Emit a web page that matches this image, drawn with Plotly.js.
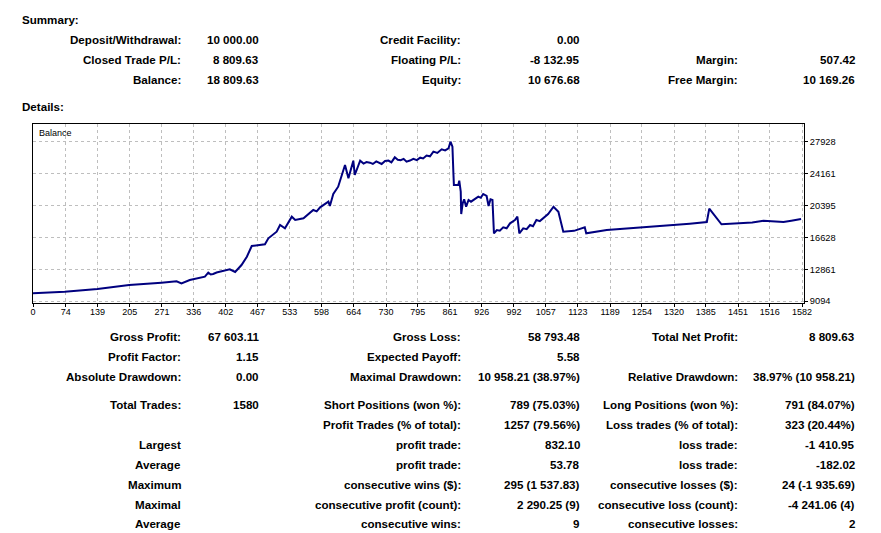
<!DOCTYPE html>
<html>
<head>
<meta charset="utf-8">
<script src="https://cdn.plot.ly/plotly-3.0.1.min.js"></script>
<style>
  html, body { margin: 0; padding: 0; background: #ffffff; }
  #chart { width: 881px; height: 533px; }
</style>
</head>
<body>
<div id="chart"></div>
<script>
// ---- Balance curve (trade number -> balance) ----
const tradeNo = [0, 72, 139, 204, 270, 301, 311, 328, 359, 366, 371, 376, 383, 390, 400, 410, 421, 434, 445, 455, 482, 489, 506, 513, 523, 537, 544, 561, 581, 588, 595, 612, 615, 622, 632, 639, 646, 653, 663, 666, 677, 684, 690, 697, 703, 710, 716, 721, 728, 735, 741, 748, 754, 760, 766, 772, 779, 786, 793, 800, 806, 813, 820, 827, 835, 844, 851, 858, 862, 866, 868, 869, 878, 880, 883, 884, 887, 890, 894, 899, 904, 909, 914, 919, 924, 929, 936, 940, 944, 948, 951, 957, 963, 970, 977, 984, 994, 999, 1003, 1011, 1018, 1025, 1031, 1038, 1045, 1052, 1062, 1073, 1083, 1093, 1115, 1137, 1140, 1182, 1216, 1250, 1284, 1318, 1352, 1387, 1392, 1417, 1455, 1480, 1503, 1520, 1544, 1560, 1580];
const balance = [10000, 10217, 10532, 11004, 11280, 11438, 11201, 11595, 11988, 12461, 12250, 12303, 12480, 12579, 12776, 12855, 12540, 13366, 14350, 15610, 15807, 16516, 17303, 18090, 17697, 19074, 18681, 18878, 19862, 19700, 20177, 20846, 20334, 21751, 22617, 23877, 25176, 23602, 25688, 23995, 25688, 25350, 25520, 25452, 25300, 25600, 25380, 25294, 25650, 25700, 25480, 26082, 25800, 25750, 25900, 25570, 25700, 25900, 25750, 26042, 25950, 26300, 26200, 26751, 26600, 27027, 26900, 27145, 27928, 27341, 24192, 22814, 22814, 23326, 22027, 19389, 20649, 21122, 20255, 21043, 20846, 21043, 21200, 21436, 21300, 21751, 21515, 20334, 21122, 21043, 17106, 17500, 17420, 17815, 17700, 18287, 18681, 19074, 17106, 17697, 17600, 18090, 17950, 18681, 18550, 18878, 19389, 20255, 19665, 17303, 17400, 17815, 17106, 17500, 17650, 17815, 17930, 18051, 18250, 18445, 20019, 18169, 18287, 18380, 18602, 18500, 18445, 18600, 18810];

// ---- Axis ticks ----
const xTickVals = [0, 74, 139, 205, 271, 336, 402, 467, 533, 598, 664, 730, 795, 861, 926, 992, 1057, 1123, 1189, 1254, 1320, 1385, 1451, 1516, 1582];
const yTickVals = [9094, 12861, 16628, 20395, 24161, 27928];

// ---- Report texts ----
const summaryTitle = "Summary:";
const detailsTitle = "Details:";
const summaryRow1 = ["Deposit/Withdrawal:", "10 000.00", "Credit Facility:", "0.00", "", ""];
const summaryRow2 = ["Closed Trade P/L:", "8 809.63", "Floating P/L:", "-8 132.95", "Margin:", "507.42"];
const summaryRow3 = ["Balance:", "18 809.63", "Equity:", "10 676.68", "Free Margin:", "10 169.26"];
const detailRow1 = ["Gross Profit:", "67 603.11", "Gross Loss:", "58 793.48", "Total Net Profit:", "8 809.63"];
const detailRow2 = ["Profit Factor:", "1.15", "Expected Payoff:", "5.58", "", ""];
const detailRow3 = ["Absolute Drawdown:", "0.00", "Maximal Drawdown:", "10 958.21 (38.97%)", "Relative Drawdown:", "38.97% (10 958.21)"];
const detailRow4 = ["Total Trades:", "1580", "Short Positions (won %):", "789 (75.03%)", "Long Positions (won %):", "791 (84.07%)"];
const detailRow5 = ["", "", "Profit Trades (% of total):", "1257 (79.56%)", "Loss trades (% of total):", "323 (20.44%)"];
const detailRow6 = ["Largest", "", "profit trade:", "832.10", "loss trade:", "-1 410.95"];
const detailRow7 = ["Average", "", "profit trade:", "53.78", "loss trade:", "-182.02"];
const detailRow8 = ["Maximum", "", "consecutive wins ($):", "295 (1 537.83)", "consecutive losses ($):", "24 (-1 935.69)"];
const detailRow9 = ["Maximal", "", "consecutive profit (count):", "2 290.25 (9)", "consecutive loss (count):", "-4 241.06 (4)"];
const detailRow10 = ["Average", "", "consecutive wins:", "9", "consecutive losses:", "2"];

// ---- Layout geometry (pixels) ----
const W = 881, H = 533;
const plotL = 33, plotR = 804, plotT = 124, plotB = 303;
const xRange = [7, 1586];
const yRange = [8881, 30018];
const colRight = [183, 261, 463, 582, 740, 857];
const topRowsY = [39, 59.5, 79.5];
const bottomRowsY = [336, 356, 376, 404, 424, 444, 464, 484, 504, 523.5];

const px2paperX = px => (px - plotL) / (plotR - plotL);
const px2paperY = py => (plotB - py) / (plotB - plotT);

const textFont = { family: "Liberation Sans, Arial, sans-serif", size: 11.6, color: "#000000" };
const annotations = [];
function addText(txt, px, py, anchor, font) {
  if (!txt) return;
  annotations.push({
    text: txt, xref: "paper", yref: "paper",
    x: px2paperX(px), y: px2paperY(py),
    xanchor: anchor, yanchor: "middle",
    showarrow: false, font: font || textFont
  });
}
function addRow(row, py) {
  row.forEach((t, i) => addText("<b>" + t + "</b>", colRight[i], py, "right"));
}
addText("<b>" + summaryTitle + "</b>", 20, 19.5, "left");
addText("<b>" + detailsTitle + "</b>", 20, 106, "left");
[summaryRow1, summaryRow2, summaryRow3].forEach((r, i) => addRow(r, topRowsY[i]));
[detailRow1, detailRow2, detailRow3, detailRow4, detailRow5, detailRow6, detailRow7, detailRow8, detailRow9, detailRow10]
  .forEach((r, i) => addRow(r, bottomRowsY[i]));
addText("Balance", 37, 133, "left", { family: "Liberation Sans, Arial, sans-serif", size: 9, color: "#000000" });

const xTickPos = xTickVals.map(v => Math.max(v, xRange[0]));

const trace = {
  x: tradeNo, y: balance, type: "scatter", mode: "lines",
  line: { color: "#00007f", width: 2 }, hoverinfo: "skip"
};

const layout = {
  width: W, height: H,
  margin: { l: plotL, r: W - plotR, t: plotT, b: H - plotB, pad: 0 },
  paper_bgcolor: "#ffffff", plot_bgcolor: "#ffffff",
  showlegend: false,
  xaxis: {
    range: xRange, tickmode: "array", tickvals: xTickPos, ticktext: xTickVals.map(String),
    showgrid: true, gridcolor: "#bebebe", griddash: "3px,3px", gridwidth: 1,
    zeroline: false, showline: true, mirror: true, linecolor: "#000000", linewidth: 1,
    ticks: "outside", ticklen: 3, tickcolor: "#000000", ticklabelstandoff: -3,
    tickfont: { family: "Liberation Sans, Arial, sans-serif", size: 9, color: "#000000" },
    fixedrange: true
  },
  yaxis: {
    range: yRange, side: "right", tickmode: "array", tickvals: yTickVals, ticktext: yTickVals.map(String),
    showgrid: true, gridcolor: "#bebebe", griddash: "3px,3px", gridwidth: 1,
    zeroline: false, showline: true, mirror: true, linecolor: "#000000", linewidth: 1,
    ticks: "outside", ticklen: 3, tickcolor: "#000000",
    tickfont: { family: "Liberation Sans, Arial, sans-serif", size: 9.3, color: "#000000" },
    fixedrange: true
  },
  annotations: annotations
};

Plotly.newPlot("chart", [trace], layout, { staticPlot: true, displayModeBar: false });
</script>
</body>
</html>
